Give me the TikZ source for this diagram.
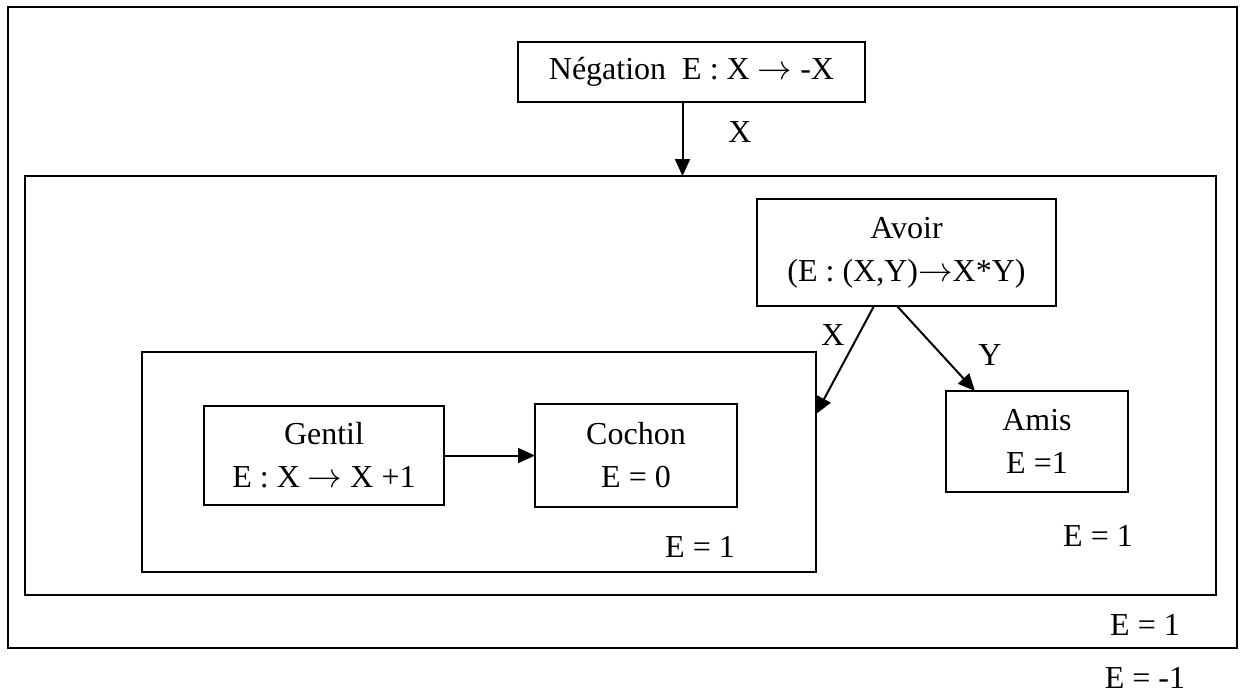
\documentclass[tikz,border=0pt]{standalone}
\usepackage{fontspec}
\setmainfont{Liberation Serif}
\usetikzlibrary{arrows.meta,calc}
\newcommand{\ar}{\ensuremath{\rightarrow}}
\begin{document}
\begin{tikzpicture}[x=0.5pt,y=-0.5pt,
  box/.style={draw,line width=1pt,inner sep=0pt,outer sep=0pt,align=center,
    font=\fontsize{16}{21.5}\selectfont},
  lbl/.style={inner sep=0pt,font=\fontsize{16}{18}\selectfont},
  link/.style={line width=1pt,-{Triangle[length=8.5pt,width=7.5pt]}}]
\useasboundingbox (0,0) rectangle (1245,693);
% frames
\node[box,minimum width=614.5pt,minimum height=320.5pt] (outer) at (622.5,327.5) {};
\node[box,minimum width=595.5pt,minimum height=209.5pt] (mid) at (620.5,385.5) {};
\node[box,minimum width=337pt,minimum height=110pt] (inner) at (479,462) {};
% boxes
\node[box,minimum width=173.5pt,minimum height=30pt] (neg) at (691.5,72) {Négation\ \ E : X \ar\ -X};
\node[box,minimum width=149.5pt,minimum height=53.5pt] (avoir) at (906.5,252.5) {Avoir\\(E : (X,Y)\ar X*Y)};
\node[box,minimum width=120pt,minimum height=49.5pt] (gentil) at (324,455.5) {Gentil\\E : X \ar\ X +1};
\node[box,minimum width=101pt,minimum height=51.5pt] (cochon) at (636,455.5) {Cochon\\E = 0};
\node[box,minimum width=91pt,minimum height=50.5pt] (amis) at (1037,441.5) {Amis\\E =1};
% labels
\node[lbl] (lx) at (740,132) {X};
\node[lbl] (lax) at (833,335) {X};
\node[lbl] (lay) at (990,355) {Y};
\node[lbl] (ein) at (700,547) {E = 1};
\node[lbl] (emid) at (1098,536) {E = 1};
\node[lbl] (eout) at (1145,625) {E = 1};
\node[lbl] (eneg) at (1145,678) {E = -1};
% connectors
\coordinate (ns) at ($(neg.south)+(-9,0)$);
\draw[link] (ns) -- (ns |- mid.north);
\coordinate (xin) at ($(inner.east)+(0,-48)$);
\draw[link] ($(avoir.south)+(-32.5,0)$) -- (xin);
\draw[link] ($(avoir.south)+(-9.5,0)$) -- ($(amis.north)+(-62,0)$);
\draw[link] (gentil.east) -- (cochon.west);
\end{tikzpicture}
\end{document}
